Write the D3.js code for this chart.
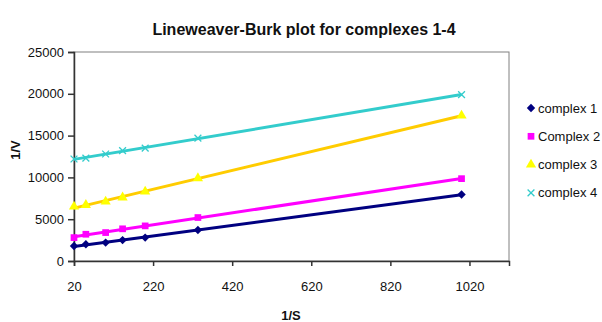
<!DOCTYPE html>
<html>
<head>
<meta charset="utf-8">
<script src="https://cdn.jsdelivr.net/npm/d3@7"></script>
<style>
  body { margin: 0; background: #fff; }
  text { font-family: "Liberation Sans", Arial, sans-serif; }
</style>
</head>
<body>
<div id="viz"></div>
<script>
// set up width and height
const width = 602;
const height = 322;

// data
const invS = [20, 50, 100, 142.86, 200, 333.33, 1000];
const complex1 = [1800, 2000, 2200, 2500, 2800, 3700, 7950];
const complex2 = [2800, 3200, 3400, 3850, 4200, 5200, 9850];
const complex3 = [6500, 6700, 7100, 7600, 8300, 9900, 17400];
const complex4 = [12200, 12300, 12800, 13200, 13500, 14700, 19900];
const seriesNames = ["complex 1", "Complex 2", "complex 3", "complex 4"];
const xTicks = [20, 220, 420, 620, 820, 1020];
const yTicks = [0, 5000, 10000, 15000, 20000, 25000];

const series = [
  {name: seriesNames[0], values: complex1, line: "#000080", fill: "#000080", symbol: d3.symbolDiamond2, size: 45},
  {name: seriesNames[1], values: complex2, line: "#ff00ff", fill: "#ff00ff", symbol: d3.symbolSquare, size: 45},
  {name: seriesNames[2], values: complex3, line: "#ffcc00", fill: "#ffff00", symbol: d3.symbolTriangle, size: 45},
  {name: seriesNames[3], values: complex4, line: "#33cccc", fill: "#33cccc", symbol: d3.symbolX, size: 32}
];

const margin = {left: 74, right: 93, top: 52, bottom: 61};

const svg = d3.select("#viz").append("svg")
    .attr("width", width)
    .attr("height", height);

const x = d3.scaleLinear()
    .domain([20, 1120])
    .range([margin.left, width - margin.right]);

const y = d3.scaleLinear()
    .domain([0, 25000])
    .range([height - margin.bottom, margin.top]);

// plot area border (top/right)
svg.append("rect")
    .attr("x", x(20))
    .attr("y", y(25000))
    .attr("width", x(1120) - x(20))
    .attr("height", y(0) - y(25000))
    .attr("fill", "none")
    .attr("stroke", "#808080")
    .attr("stroke-width", 1);

// axes
const xAxis = svg.append("g")
    .attr("transform", "translate(0," + y(0) + ")")
    .call(d3.axisBottom(x).tickValues(xTicks).tickSize(5).tickPadding(16).tickFormat(d3.format("d")));

const yAxis = svg.append("g")
    .attr("transform", "translate(" + x(20) + ",0)")
    .call(d3.axisLeft(y).tickValues(yTicks).tickSize(6).tickPadding(4).tickFormat(d3.format("d")));

[xAxis, yAxis].forEach(g => {
  g.selectAll("path").attr("stroke", "#333").attr("stroke-width", 1.5);
  g.selectAll("line").attr("stroke", "#333").attr("stroke-width", 1.5);
  g.selectAll("text").style("font-size", "13px").attr("fill", "#111");
});

// linear fit for each series
function fit(xs, ys) {
  const mx = d3.mean(xs), my = d3.mean(ys);
  let num = 0, den = 0;
  xs.forEach((xv, i) => { num += (xv - mx) * (ys[i] - my); den += (xv - mx) * (xv - mx); });
  const b = num / den;
  return {a: my - b * mx, b: b};
}

const line = d3.line()
    .x(d => x(d[0]))
    .y(d => y(d[1]));

series.forEach(s => {
  const f = fit(invS, s.values);
  const ends = d3.extent(invS).map(xv => [xv, f.a + f.b * xv]);
  svg.append("path")
      .attr("d", line(ends))
      .attr("fill", "none")
      .attr("stroke", s.line)
      .attr("stroke-width", 3);
});

series.forEach(s => {
  svg.append("g")
    .selectAll("path")
    .data(s.values)
    .join("path")
    .attr("transform", (d, i) => "translate(" + x(invS[i]) + "," + y(d) + ")")
    .attr("d", d3.symbol().type(s.symbol).size(s.size))
    .attr("fill", s.symbol === d3.symbolX ? "none" : s.fill)
    .attr("stroke", s.symbol === d3.symbolX ? s.fill : "none")
    .attr("stroke-width", 1.3);
});

// titles
svg.append("text")
    .attr("x", 304)
    .attr("y", 35)
    .attr("text-anchor", "middle")
    .style("font-size", "16px")
    .style("font-weight", "bold")
    .attr("fill", "#111")
    .text("Lineweaver-Burk plot for complexes 1-4");

svg.append("text")
    .attr("x", 291)
    .attr("y", 320)
    .attr("text-anchor", "middle")
    .style("font-size", "13px")
    .style("font-weight", "bold")
    .attr("fill", "#111")
    .text("1/S");

svg.append("text")
    .attr("transform", "translate(20,150) rotate(-90)")
    .attr("text-anchor", "middle")
    .style("font-size", "13px")
    .style("font-weight", "bold")
    .attr("fill", "#111")
    .text("1/V");

// legend
const legend = svg.append("g")
    .attr("transform", "translate(531,108)");

legend.selectAll("path")
    .data(series)
    .join("path")
    .attr("transform", (d, i) => "translate(0," + i * 28.3 + ")")
    .attr("d", d => d3.symbol().type(d.symbol).size(d.size)())
    .attr("fill", d => d.symbol === d3.symbolX ? "none" : d.fill)
    .attr("stroke", d => d.symbol === d3.symbolX ? d.fill : "none")
    .attr("stroke-width", 1.3);

legend.selectAll("text")
    .data(series)
    .join("text")
    .attr("x", 7)
    .attr("y", (d, i) => i * 28.3)
    .attr("dy", "0.35em")
    .style("font-size", "13px")
    .attr("fill", "#111")
    .text(d => d.name);
</script>
</body>
</html>
